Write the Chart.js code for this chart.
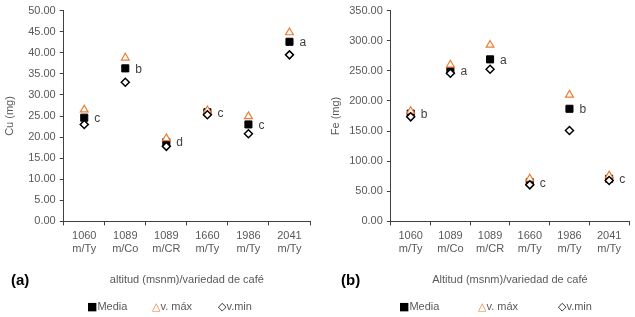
<!DOCTYPE html>
<html>
<head>
<meta charset="utf-8">
<script src="https://cdn.jsdelivr.net/npm/chart.js@4.4.1/dist/chart.umd.min.js"></script>
<style>
  html, body { margin: 0; padding: 0; background: #fff; }
  body { width: 635px; height: 317px; position: relative; overflow: hidden; font-family: "Liberation Sans", Arial, sans-serif; }
  .box { position: absolute; top: 0; height: 317px; }
  #boxA { left: 0; width: 318px; }
  #boxB { left: 318px; width: 317px; }
  .tag { position: absolute; font-weight: bold; font-size: 15px; color: #000; }
  .leg { position: absolute; top: 299px; font-size: 11px; color: #595959; white-space: nowrap; line-height: 14px; }
  .sym { font-family: "DejaVu Sans", sans-serif; font-size: 11px; }
</style>
</head>
<body>
<div class="box" id="boxA"><canvas id="chartA"></canvas></div>
<div class="box" id="boxB"><canvas id="chartB"></canvas></div>
<div class="tag" style="left:11px; top:271px;">(a)</div>
<div class="tag" style="left:341px; top:271px;">(b)</div>
<div id="legA"></div>
<div id="legB"></div>
<script>
// ---- data ----
const categories = [["1060", "m/Ty"], ["1089", "m/Co"], ["1089", "m/CR"], ["1660", "m/Ty"], ["1986", "m/Ty"], ["2041", "m/Ty"]];
const seriesNames = ["Media", "v. máx", "v.min"];

const cuMedia = [24.6, 36.3, 18.8, 25.9, 23.0, 42.6];
const cuMax   = [26.5, 38.8, 19.7, 26.3, 24.9, 44.8];
const cuMin   = [23.0, 33.0, 17.8, 25.3, 20.8, 39.5];
const cuLetters = ["c", "b", "d", "c", "c", "a"];

const feMedia = [179, 250, 269, 65, 187, 70.8];
const feMax   = [183, 260, 293, 70.8, 210, 76];
const feMin   = [173.6, 246, 252.7, 60.7, 151, 68];
const feLetters = ["b", "a", "a", "c", "b", "c"];

const cuTicks = { min: 0, max: 50, step: 5 };
const feTicks = { min: 0, max: 350, step: 50 };

// ---- helpers ----
const FONT = "'Liberation Sans', Arial, sans-serif";
const GREY = "#595959";
const ORANGE = "#ED7D31";

// legend as text (like the original)
const legendSymbols = [["■", "#000"], ["△", ORANGE], ["◇", "#000"]];
function buildLegend(id, xs) {
  const host = document.getElementById(id);
  seriesNames.forEach((name, i) => {
    const d = document.createElement("div");
    d.className = "leg";
    d.style.left = xs[i] + "px";
    const s = document.createElement("span");
    s.className = "sym";
    s.style.color = legendSymbols[i][1];
    s.textContent = legendSymbols[i][0];
    d.appendChild(s);
    d.appendChild(document.createTextNode(name));
    host.appendChild(d);
  });
}
buildLegend("legA", [87, 152, 218]);
buildLegend("legB", [399, 478, 558]);

const letterPlugin = {
  id: "letters",
  afterDatasetsDraw(chart, args, opts) {
    const meta = chart.getDatasetMeta(0);
    const ctx = chart.ctx;
    ctx.save();
    ctx.font = "12px " + FONT;
    ctx.fillStyle = "#404040";
    ctx.textAlign = "left";
    ctx.textBaseline = "middle";
    meta.data.forEach((pt, i) => {
      ctx.fillText(opts.letters[i], pt.x + 10, pt.y + 1);
    });
    ctx.restore();
  }
};

function makeChart(id, media, max, min, letters, yTitle, xTitle, tk, pad, yTitlePad) {
  return new Chart(document.getElementById(id), {
    type: "line",
    data: {
      labels: categories,
      datasets: [
        { label: seriesNames[0], data: media, showLine: false, pointStyle: "rect", pointRadius: 5, pointHoverRadius: 5,
          backgroundColor: "#000", borderColor: "#000", borderWidth: 1, order: 2 },
        { label: seriesNames[1], data: max, showLine: false, pointStyle: "triangle", pointRadius: 4.5, pointHoverRadius: 4.5,
          backgroundColor: "#fff", borderColor: ORANGE, borderWidth: 1.2, order: 1 },
        { label: seriesNames[2], data: min, showLine: false, pointStyle: "rectRot", pointRadius: 4, pointHoverRadius: 4,
          backgroundColor: "#fff", borderColor: "#000", borderWidth: 1.5, order: 0 }
      ]
    },
    options: {
      responsive: true,
      maintainAspectRatio: false,
      animation: false,
      layout: { padding: pad },
      plugins: {
        tooltip: { enabled: false },
        letters: { letters: letters },
        legend: { display: false }
      },
      scales: {
        x: {
          offset: true,
          grid: { display: true, drawOnChartArea: false, drawTicks: true, tickLength: 4, offset: true, color: "#404040" },
          border: { display: true, color: "#404040", width: 1 },
          ticks: { color: GREY, font: { family: FONT, size: 11 }, maxRotation: 0, padding: 4 },
          title: { display: true, text: xTitle, color: GREY, font: { family: FONT, size: 11 }, padding: { top: 14, bottom: 4 } }
        },
        y: {
          min: tk.min, max: tk.max,
          grid: { display: true, drawOnChartArea: false, drawTicks: true, tickLength: 4, color: "#404040" },
          border: { display: true, color: "#404040", width: 1 },
          ticks: { stepSize: tk.step, color: GREY, font: { family: FONT, size: 11 }, padding: 4,
                   callback: v => Number(v).toFixed(2) },
          title: { display: true, text: yTitle, color: GREY, font: { family: FONT, size: 11 }, padding: { top: 0, bottom: yTitlePad } }
        }
      }
    },
    plugins: [letterPlugin]
  });
}

makeChart("chartA", cuMedia, cuMax, cuMin, cuLetters, "Cu (mg)", "altitud (msnm)/variedad de café", cuTicks,
          { left: 3, right: 8, top: 6, bottom: 26 }, 8);
makeChart("chartB", feMedia, feMax, feMin, feLetters, "Fe (mg)", "Altitud (msnm)/variedad de café", feTicks,
          { left: 11, right: 3, top: 6, bottom: 26 }, 3);
</script>
</body>
</html>
